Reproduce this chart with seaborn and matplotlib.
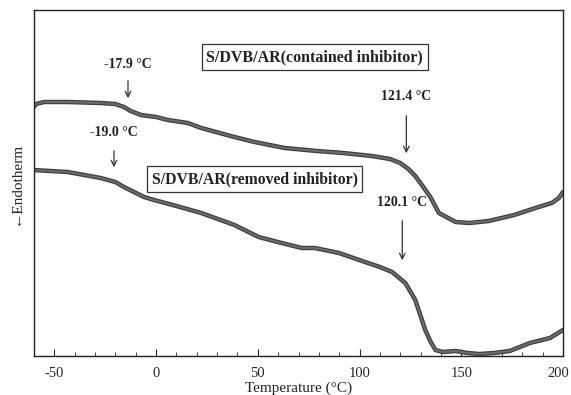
import matplotlib
matplotlib.use("Agg")
import matplotlib.pyplot as plt
import matplotlib.patheffects as pe
import matplotlib.transforms as mtrans
import seaborn as sns
import pandas as pd
import numpy as np

# Curve 1: S/DVB/AR (contained inhibitor)
temp_contained = [-60.5, -59.0, -55.0, -43.5, -27.2, -20.0, -15.8, -12.5, -7.4, 0.0, 5.8,
                  15.6, 22.2, 38.5, 48.4, 63.2, 79.0, 92.0, 106.0, 115.0, 120.0, 124.0,
                  127.4, 131.0, 134.8, 139.0, 147.2, 154.0, 163.5, 176.0, 188.0, 194.5,
                  198.0, 200.0]
signal_contained = [-108, -104, -102, -102, -103, -104, -107, -111, -115, -117, -120,
                    -123, -128, -137, -142, -148, -151, -153, -156, -159, -163, -169,
                    -176, -186, -197, -213, -222, -223, -221, -215, -207, -203,
                    -198, -192]

# Curve 2: S/DVB/AR (removed inhibitor)
temp_removed = [-60.5, -43.5, -27.2, -20.0, -15.8, -5.9, -1.0, 10.0, 22.2, 38.5, 50.4,
                61.7, 71.6, 78.0, 89.9, 102.7, 110.0, 116.0, 122.5, 127.4, 132.3,
                135.0, 137.3, 141.0, 147.2, 153.0, 159.0, 166.0, 173.8, 183.7, 193.6,
                200.0]
signal_removed = [-170, -172, -178, -182, -187, -197, -200, -206, -213, -225, -237,
                  -243, -248, -248, -253, -262, -267, -272, -283, -300, -330,
                  -342, -350, -352, -351, -353, -354, -353, -351, -343, -338,
                  -330]

tick_values = [-50, 0, 50, 100, 150, 200]
tick_labels = ["-50", "0", "50", "100", "150", "200"]

df = pd.concat([
    pd.DataFrame({"T": temp_contained, "S": signal_contained, "sample": "contained"}),
    pd.DataFrame({"T": temp_removed, "S": signal_removed, "sample": "removed"}),
])

sns.set_style("ticks")
plt.rcParams["font.family"] = ["Liberation Serif", "DejaVu Serif"]
plt.rcParams["axes.unicode_minus"] = False

fig = plt.figure(figsize=(5.71, 3.95), dpi=100)
ax = fig.add_axes([34 / 571, 39 / 395, 529 / 571, 346 / 395])

sns.lineplot(data=df, x="T", y="S", hue="sample", palette=["#6a6a6a", "#6a6a6a"],
             linewidth=1.6, legend=False, ax=ax, sort=False)
for line in ax.get_lines():
    line.set_path_effects([pe.Stroke(linewidth=3.2, foreground="#3c3c3c"), pe.Normal()])
    line.set_solid_joinstyle("round")
    line.set_solid_capstyle("round")

ax.set_xlim(-60, 200)
ax.set_ylim(-356, -10)
ax.set_yticks([])
ax.set_xticks(tick_values)
ax.set_xticklabels(tick_labels)
ax.set_xticks(np.arange(-60, 201, 10), minor=True)
ax.tick_params(axis="x", which="major", direction="in", length=5, width=0.8,
               labelsize=10.5, pad=8)
ax.tick_params(axis="x", which="minor", direction="in", length=3, width=0.6)
last = ax.get_xticklabels()[-1]
last.set_transform(last.get_transform() +
                   mtrans.ScaledTranslation(-5 / 100, 0, fig.dpi_scale_trans))
for s in ax.spines.values():
    s.set_linewidth(1.0)
    s.set_color("#222222")
ax.set_xlabel("Temperature (°C)", fontsize=11, labelpad=1)
ax.set_ylabel("←Endotherm", fontsize=11, labelpad=8)

arrow_kw = dict(arrowstyle="->", color="#333333", lw=0.9)
# annotations: (text, arrow x, arrow top y, arrow tip y, text y)
annotations = [
    ("-17.9 °C", -13.8, -78, -101, -64),
    ("-19.0 °C", -20.7, -148, -170, -133),
    ("121.4 °C", 123.0, -113, -156, -97),
    ("120.1 °C", 121.0, -218, -263, -203),
]
for txt, xa, y0, y1, yt in annotations:
    ax.annotate("", xy=(xa, y1), xytext=(xa, y0), arrowprops=arrow_kw)
    ax.text(xa, yt, txt, ha="center", va="center", fontsize=10, fontweight="bold",
            color="#222222")

box = dict(boxstyle="square,pad=0.3", fc="white", ec="#333333", lw=0.9)
ax.text(78.0, -57, "S/DVB/AR(contained inhibitor)", ha="center", va="center",
        fontsize=11.5, fontweight="bold", bbox=box, color="#222222")
ax.text(48.5, -179, "S/DVB/AR(removed inhibitor)", ha="center", va="center",
        fontsize=11.3, fontweight="bold", bbox=box, color="#222222")

fig.savefig("out.png", dpi=100)
